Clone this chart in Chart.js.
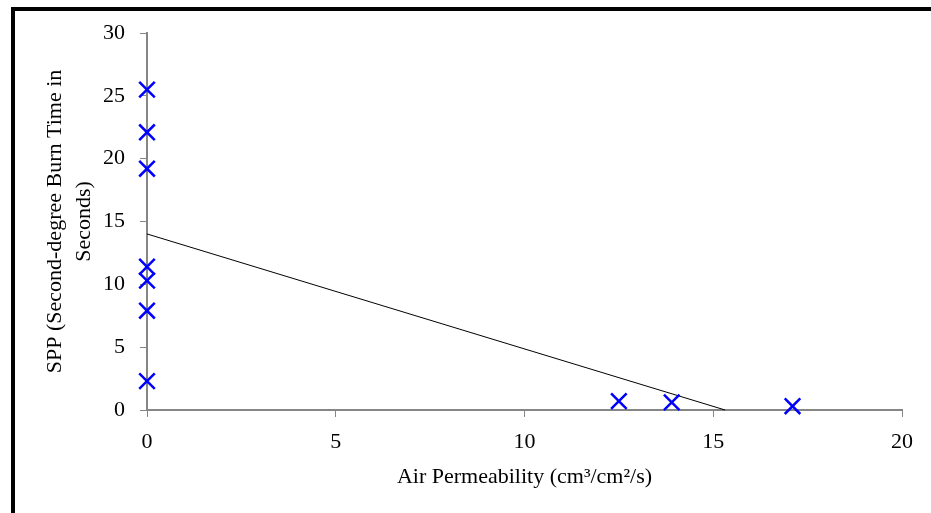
<!DOCTYPE html>
<html>
<head>
<meta charset="utf-8">
<script src="https://cdn.jsdelivr.net/npm/chart.js@4"></script>
<style>
  html, body { margin: 0; padding: 0; background: #fff; }
  #wrap { width: 931px; height: 513px; position: relative; }
</style>
</head>
<body>
<div id="wrap"><canvas id="chart" width="931" height="513"></canvas></div>
<script>
// measured points (x = air permeability, y = SPP)
const permeability = [0, 0, 0, 0, 0, 0, 0, 12.5, 13.9, 17.1];
const burnTime = [25.5, 22.1, 19.2, 11.4, 10.3, 7.9, 2.3, 0.7, 0.6, 0.3];
const xTicks = [0, 5, 10, 15, 20];
const yTicks = [0, 5, 10, 15, 20, 25, 30];

const serif = "'Liberation Serif', 'Times New Roman', serif";
const axisGray = '#868686';

// least-squares trend line, clipped at y = 0
function trendLine(xs, ys) {
    const n = xs.length;
    const mx = xs.reduce((a, b) => a + b, 0) / n;
    const my = ys.reduce((a, b) => a + b, 0) / n;
    let sxy = 0, sxx = 0;
    xs.forEach((x, i) => {
        sxy += (x - mx) * (ys[i] - my);
        sxx += (x - mx) * (x - mx);
    });
    const slope = sxy / sxx;
    const intercept = my - slope * mx;
    return [{ x: 0, y: intercept }, { x: -intercept / slope, y: 0 }];
}

const framePlugin = {
    id: 'frame',
    beforeDraw(chart) {
        const ctx = chart.ctx;
        ctx.save();
        ctx.fillStyle = '#fff';
        ctx.fillRect(0, 0, chart.width, chart.height);
        ctx.fillStyle = '#000';
        ctx.fillRect(11, 7, chart.width - 11, 4);
        ctx.fillRect(11, 7, 4, chart.height - 7);
        ctx.restore();
    }
};

new Chart(document.getElementById('chart'), {
    type: 'scatter',
    data: {
        datasets: [
            {
                data: permeability.map((x, i) => ({ x, y: burnTime[i] })),
                pointStyle: 'crossRot',
                pointRadius: 11,
                pointHoverRadius: 11,
                borderColor: '#0000ff',
                backgroundColor: '#0000ff',
                pointBorderWidth: 2.5,
                clip: false,
                order: 1
            },
            {
                type: 'line',
                data: trendLine(permeability, burnTime),
                borderColor: '#000',
                borderWidth: 1,
                pointRadius: 0,
                fill: false,
                clip: false,
                order: 2
            }
        ]
    },
    options: {
        responsive: false,
        animation: false,
        layout: { padding: { left: 0, top: 33, right: 29, bottom: 0 } },
        plugins: { legend: { display: false }, tooltip: { enabled: false } },
        scales: {
            x: {
                type: 'linear',
                min: 0,
                max: 20,
                afterBuildTicks: (s) => { s.ticks = xTicks.map((v) => ({ value: v })); },
                afterFit: (s) => { s.height = 103; },
                grid: { drawOnChartArea: false, drawTicks: true, tickLength: 7, tickColor: axisGray, tickWidth: 1 },
                border: { color: axisGray, width: 2 },
                ticks: { color: '#000', padding: 12, font: { family: serif, size: 22 }, maxRotation: 0 },
                title: {
                    display: true,
                    text: 'Air Permeability (cm³/cm²/s)',
                    color: '#000',
                    font: { family: serif, size: 22, lineHeight: 1.2 },
                    padding: { top: 0, bottom: 23 }
                }
            },
            y: {
                type: 'linear',
                min: 0,
                max: 30,
                afterBuildTicks: (s) => { s.ticks = yTicks.map((v) => ({ value: v })); },
                afterFit: (s) => { s.width = 147; },
                grid: { drawOnChartArea: false, drawTicks: true, tickLength: 7, tickColor: axisGray, tickWidth: 1 },
                border: { color: axisGray, width: 2 },
                ticks: { color: '#000', padding: 15, font: { family: serif, size: 22 } },
                title: {
                    display: true,
                    text: ['SPP (Second-degree Burn Time in', 'Seconds)'],
                    color: '#000',
                    font: { family: serif, size: 22, lineHeight: 1.3 },
                    padding: { top: 41, bottom: 0 }
                }
            }
        }
    },
    plugins: [framePlugin]
});
</script>
</body>
</html>
